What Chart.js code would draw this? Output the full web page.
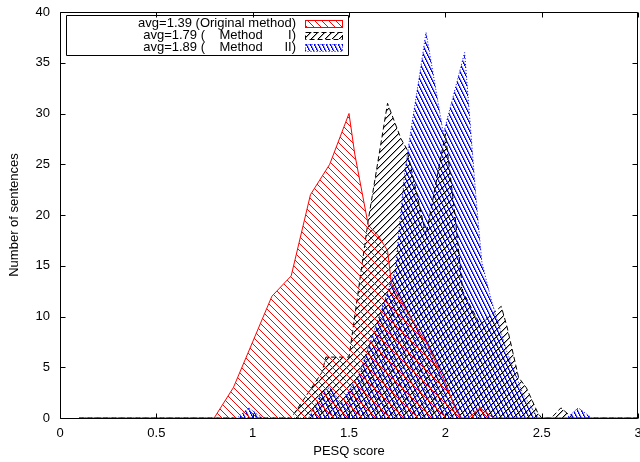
<!DOCTYPE html>
<html><head><meta charset="utf-8">
<script src="https://cdn.jsdelivr.net/npm/chart.js@4/dist/chart.umd.min.js"></script>
<style>
html,body{margin:0;padding:0;overflow:hidden;background:#fff;width:640px;height:462px}
#wrap{width:660px;height:462px}
</style>
</head><body><div id="wrap"><canvas id="c" width="660" height="462"></canvas></div>
<script>
// ---- data ----
const seriesLabels = [
  'avg=1.39 (Original method)',
  'avg=1.79 (    Method       I)',
  'avg=1.89 (    Method      II)'
];
const xTitle = 'PESQ score';
const yTitle = 'Number of sentences';

const origX = [0.1, 0.8, 0.9, 1.0, 1.1, 1.2, 1.3, 1.4, 1.5, 1.53, 1.6, 1.65, 1.7, 1.72, 1.8, 1.9, 2.0, 2.05, 2.08, 2.12, 2.18, 2.25, 3.0];
const origY = [0,   0,   3,   7.5, 12,  14,  22,  25,  30,  26,   19,  18,   16.5, 13.3, 10.5, 7.5, 3.5, 1,    0,    0,    1,    0,    0];

const m1X = [0.1, 1.2, 1.36, 1.38, 1.5, 1.6,  1.7, 1.77, 1.8,  1.9, 2.0, 2.05, 2.09, 2.18, 2.29, 2.32, 2.38, 2.42, 2.48, 2.5, 2.55, 2.6, 2.66, 3.0];
const m1Y = [0,   0,   4.5,  6,    6,   19.5, 31,  27.5, 26.5, 18,  28,  20,   12.5, 9.2,  11,   9,    4,    3,    0.5,  0,   0,    1,   0,    0];

const m2X = [0.1, 0.92, 0.98, 1.05, 1.29, 1.36, 1.4, 1.46, 1.55, 1.74, 1.79, 1.9, 1.99, 2.1, 2.16, 2.19, 2.24, 2.32, 2.4, 2.48, 2.63, 2.69, 2.76, 3.0];
const m2Y = [0,   0,    1,    0,    0,    2.6,  3,   1.5,  4.2,  14.6, 24.4, 38,  28,   36,  21.5, 15.3, 11.5, 6.5,  2.5, 0,    0,    1,    0,    0];

const xTicks = [0, 0.5, 1, 1.5, 2, 2.5, 3];
const yTicks = [0, 5, 10, 15, 20, 25, 30, 35, 40];

// ---- patterns ----
function makePattern(w, h, pts) {
  const c = document.createElement('canvas');
  c.width = w; c.height = h;
  const g = c.getContext('2d');
  pts.forEach(p => { g.fillStyle = p[2]; g.fillRect(p[0], p[1], 1, 1); });
  return document.getElementById('c').getContext('2d').createPattern(c, 'repeat');
}
const redPts = [], blackPts = [], bluePts = [];
for (let i = 0; i < 7; i++) {
  redPts.push([i, i, '#ff0000']);
  blackPts.push([6 - i, i, '#000000']);
  blackPts.push([(7 - i) % 7, i, 'rgba(0,0,0,0.35)']);
}
for (let i = 0; i < 8; i++) {
  const x = Math.floor(i / 2);
  bluePts.push([x, i, '#0000ff']);
  bluePts.push([(x + 1) % 4, i, i % 2 ? 'rgba(0,0,255,0.55)' : 'rgba(0,0,255,0.2)']);
}
const redPat = makePattern(7, 7, redPts);
const blackPat = makePattern(7, 7, blackPts);
const bluePat = makePattern(4, 8, bluePts);

function pts(xs, ys) { return xs.map((x, i) => ({x: x, y: ys[i]})); }

const FONT = 'Liberation Sans, Arial, Helvetica, sans-serif';

const framePlugin = {
  id: 'frame',
  afterDraw(chart) {
    const ctx = chart.ctx;
    const a = chart.chartArea;
    const xs = chart.scales.x, ys = chart.scales.y;
    ctx.save();
    ctx.strokeStyle = '#000';
    ctx.lineWidth = 1;
    ctx.setLineDash([]);
    const L = Math.round(a.left) + 0.5, R = Math.round(a.right) - 0.5;
    const T = Math.round(a.top) + 0.5, B = Math.round(a.bottom) + 0.5;
    ctx.beginPath();
    ctx.rect(L, T, R - L, B - T);
    xTicks.forEach(v => {
      const p = Math.round(xs.getPixelForValue(v)) + 0.5;
      ctx.moveTo(p, B); ctx.lineTo(p, B - 5);
      ctx.moveTo(p, T); ctx.lineTo(p, T + 5);
    });
    yTicks.forEach(v => {
      const p = Math.round(ys.getPixelForValue(v)) + 0.5;
      ctx.moveTo(L, p); ctx.lineTo(L + 5, p);
      ctx.moveTo(R, p); ctx.lineTo(R - 5, p);
    });
    ctx.stroke();

    // key box
    ctx.beginPath();
    ctx.rect(66.5, 15.5, 282, 40);
    ctx.stroke();
    ctx.font = '13px ' + FONT;
    ctx.textAlign = 'right';
    ctx.textBaseline = 'middle';
    chart.data.datasets.forEach((ds, i) => {
      const cy = 23.5 + 12 * i;
      ctx.fillStyle = '#000';
      ctx.fillText(ds.label, 296, cy);
      ctx.fillStyle = ds.backgroundColor;
      ctx.fillRect(305, cy - 3.5, 38, 7);
      ctx.strokeStyle = ds.borderColor;
      ctx.setLineDash(ds.borderDash || []);
      ctx.strokeRect(305.5, cy - 3, 37, 7);
    });
    ctx.restore();
  }
};

new Chart(document.getElementById('c'), {
  type: 'line',
  data: {
    datasets: [
      {label: seriesLabels[0], data: pts(origX, origY), borderColor: '#ff0000', backgroundColor: redPat,
       borderWidth: 1, fill: 'origin', pointRadius: 0, tension: 0},
      {label: seriesLabels[1], data: pts(m1X, m1Y), borderColor: '#000000', backgroundColor: blackPat,
       borderWidth: 1, borderDash: [5, 3], fill: 'origin', pointRadius: 0, tension: 0},
      {label: seriesLabels[2], data: pts(m2X, m2Y), borderColor: '#0000ff', backgroundColor: bluePat,
       borderWidth: 1, borderDash: [1, 2], fill: 'origin', pointRadius: 0, tension: 0}
    ]
  },
  options: {
    responsive: false,
    animation: false,
    devicePixelRatio: 1,
    layout: {padding: {top: 12, left: 0, right: 22, bottom: 0}},
    plugins: {legend: {display: false}, tooltip: {enabled: false}},
    scales: {
      x: {
        type: 'linear', min: 0, max: 3,
        afterFit: s => { s.height = 44; s.paddingLeft = 0; s.paddingRight = 0; },
        afterBuildTicks: s => { s.ticks = xTicks.map(v => ({value: v})); },
        grid: {display: false, drawTicks: false},
        border: {display: false},
        ticks: {color: '#000', padding: 8, font: {family: FONT, size: 13}, maxRotation: 0, autoSkip: false,
                callback: v => String(v)},
        title: {display: true, text: xTitle, color: '#000', font: {family: FONT, size: 13}, padding: {top: 0, bottom: 3}}
      },
      y: {
        type: 'linear', min: 0, max: 40,
        afterFit: s => { s.width = 60; s.paddingTop = 0; s.paddingBottom = 0; },
        afterBuildTicks: s => { s.ticks = yTicks.map(v => ({value: v})); },
        grid: {display: false, drawTicks: false},
        border: {display: false},
        ticks: {color: '#000', padding: 10, font: {family: FONT, size: 13}, autoSkip: false,
                callback: v => String(v)},
        title: {display: true, text: yTitle, color: '#000', font: {family: FONT, size: 13}, padding: {top: 7, bottom: 0}}
      }
    }
  },
  plugins: [framePlugin]
});
</script>
</body></html>
